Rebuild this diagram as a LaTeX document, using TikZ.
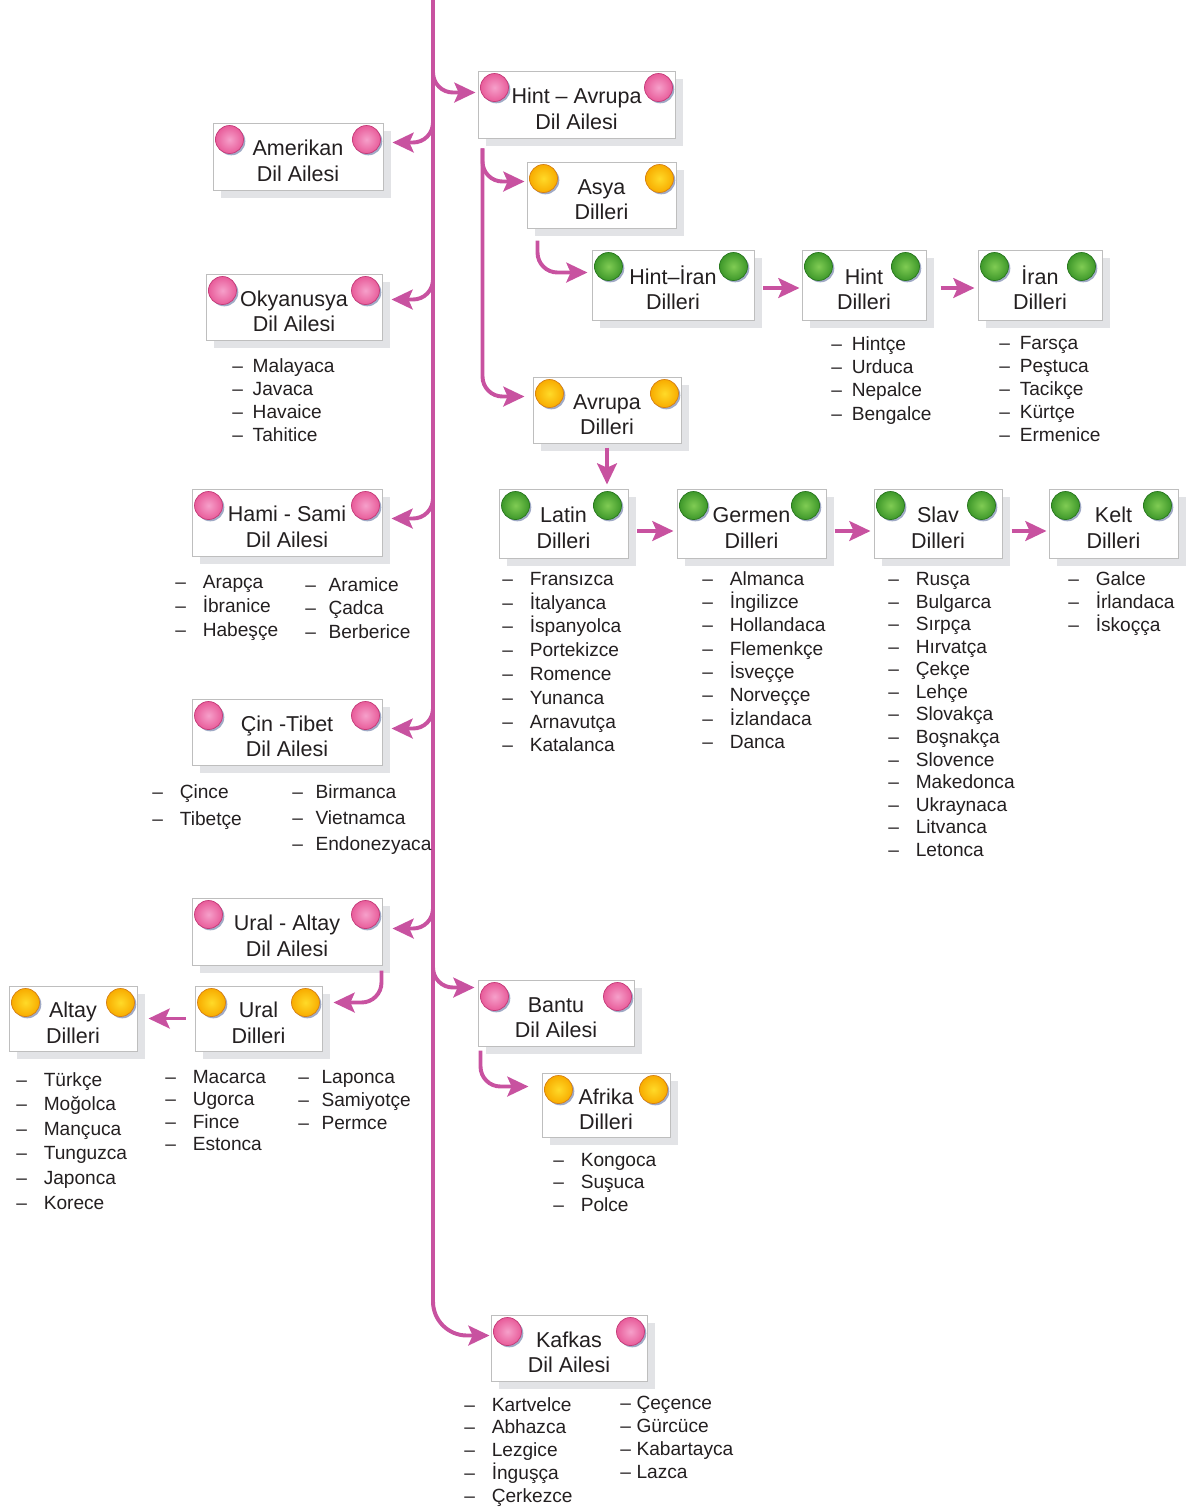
\documentclass[tikz,border=0pt]{standalone}
\usepackage{fontspec}
\setmainfont{Liberation Sans}
\usetikzlibrary{arrows.meta,shadows}

\definecolor{mag}{RGB}{200,82,160}
\definecolor{txt}{RGB}{35,31,32}
\definecolor{boxgray}{RGB}{190,190,190}
\definecolor{boxshadow}{RGB}{226,227,230}
\definecolor{dotshadow}{RGB}{160,170,198}
\definecolor{pinkin}{RGB}{246,160,202}
\definecolor{pinkout}{RGB}{232,92,154}
\definecolor{pinkedge}{RGB}{196,58,120}
\definecolor{orin}{RGB}{255,218,40}
\definecolor{orout}{RGB}{248,172,0}
\definecolor{oredge}{RGB}{214,128,20}
\definecolor{grin}{RGB}{128,204,84}
\definecolor{grout}{RGB}{62,152,42}
\definecolor{gredge}{RGB}{40,118,30}

\tikzstyle{arw} = [draw=mag, line width=2.8pt, -{Stealth[length=15pt,width=14pt,inset=3pt]}]
\tikzstyle{brarw} = [arw, rounded corners=0.5cm]
\tikzstyle{fam} = [draw=boxgray, fill=white, line width=0.7pt, inner sep=0pt, align=center, text=txt,
  font=\fontsize{15.3}{18.2}\selectfont,
  general shadow={fill=boxshadow, shadow xshift=0.2cm, shadow yshift=-0.2cm}]
\tikzset{sz/.style 2 args={minimum width=#1*0.025cm, minimum height=#2*0.025cm}}
\tikzstyle{dot} = [circle, inner sep=0pt, minimum size=0.7cm, line width=0.5pt,
  general shadow={fill=dotshadow, shadow xshift=0.045cm, shadow yshift=-0.045cm}]
\tikzstyle{pdot} = [dot, draw=pinkedge, inner color=pinkin, outer color=pinkout]
\tikzstyle{odot} = [dot, draw=oredge, inner color=orin, outer color=orout]
\tikzstyle{gdot} = [dot, draw=gredge, inner color=grin, outer color=grout]
\tikzstyle{lst} = [anchor=north west, inner sep=0pt, align=left, text=txt, font=\fontsize{13.6}{#1}\selectfont]

% two lines of a box, first one strutted
\newcommand{\boxtext}[2]{\rule{0pt}{17pt}#1\\#2}

% dash + gap in the lists
\newcommand{\dashw}{–\hspace{12pt}}
\newcommand{\dashm}{–\hspace{9pt}}
\newcommand{\dashn}{–\hspace{7pt}}
\newcommand{\dasht}{–\hspace{4pt}}

% the two balls on a box
\newcommand{\twodots}[3][17]{%
  \node[#3] (#2-l) at ([shift={(17,17)}]#2.north west) {};
  \node[#3] (#2-r) at ([shift={(-#1,17)}]#2.north east) {};}

\begin{document}
\begin{tikzpicture}[x=0.025cm, y=-0.025cm]
\useasboundingbox (0,0) rectangle (1189,1508);

% families
\node[fam, sz={197}{67}] (hav) at (576.5,104.5) {\boxtext{Hint – Avrupa}{Dil Ailesi}};
\node[fam, sz={170}{67}] (ame) at (298,156.5) {\boxtext{Amerikan}{Dil Ailesi}};
\node[fam, sz={176}{66}] (oky) at (294,307) {\boxtext{Okyanusya}{Dil Ailesi}};
\node[fam, sz={190}{67}] (ham) at (287,522.5) {\boxtext{Hami - Sami}{Dil Ailesi}};
\node[fam, sz={190}{66}] (cin) at (287,732) {\boxtext{Çin -Tibet}{Dil Ailesi}};
\node[fam, sz={190}{67}] (ura) at (287,931.5) {\boxtext{Ural - Altay}{Dil Ailesi}};
\node[fam, sz={156}{66}] (ban) at (556,1013) {\boxtext{Bantu}{Dil Ailesi}};
\node[fam, sz={156}{66}] (kaf) at (569,1348) {\boxtext{Kafkas}{Dil Ailesi}};

% groups
\node[fam, sz={149}{66}] (asy) at (601.5,195) {\boxtext{Asya}{Dilleri}};
\node[fam, sz={148}{66}] (avr) at (607,410) {\boxtext{Avrupa}{Dilleri}};
\node[fam, sz={128}{65}] (alt) at (73,1018.5) {\boxtext{Altay}{Dilleri}};
\node[fam, sz={127}{65}] (urd) at (258.5,1018.5) {\boxtext{Ural}{Dilleri}};
\node[fam, sz={128}{64}] (afr) at (606,1105) {\boxtext{Afrika}{Dilleri}};

% sub groups
\node[fam, sz={162}{70}] (hii) at (673,285) {\boxtext{Hint–İran}{Dilleri}};
\node[fam, sz={124}{70}] (hin) at (864,285) {\boxtext{Hint}{Dilleri}};
\node[fam, sz={124}{70}] (ira) at (1040,285) {\boxtext{İran}{Dilleri}};
\node[fam, sz={129}{69}] (lat) at (563.5,523.5) {\boxtext{Latin}{Dilleri}};
\node[fam, sz={149}{69}] (ger) at (751.5,523.5) {\boxtext{Germen}{Dilleri}};
\node[fam, sz={128}{69}] (sla) at (938,523.5) {\boxtext{Slav}{Dilleri}};
\node[fam, sz={129}{69}] (kel) at (1113.5,523.5) {\boxtext{Kelt}{Dilleri}};

\twodots{hav}{pdot} \twodots{ame}{pdot} \twodots{oky}{pdot} \twodots{ham}{pdot}
\twodots{cin}{pdot} \twodots{ura}{pdot} \twodots{ban}{pdot} \twodots{kaf}{pdot}
\twodots{asy}{odot} \twodots{avr}{odot} \twodots{alt}{odot} \twodots{urd}{odot}
\twodots{afr}{odot}
\twodots[21]{hii}{gdot} \twodots[21]{hin}{gdot} \twodots[21]{ira}{gdot}
\twodots[21]{lat}{gdot} \twodots[21]{ger}{gdot} \twodots[21]{sla}{gdot}
\twodots[21]{kel}{gdot}

% main line
\coordinate (top) at (433,0);
\coordinate (sp-hav) at (433,40);
\coordinate (sp-ame) at (433,100);
\coordinate (sp-oky) at (433,255);
\coordinate (sp-ham) at (433,475);
\coordinate (sp-cin) at (433,685);
\coordinate (sp-ura) at (433,885);
\coordinate (sp-ban) at (433,940);
\draw[arw, rounded corners=0.85cm] (top) |- ([shift={(-1,21)}]kaf.north west);
\draw[brarw] (sp-hav) |- ([shift={(-2,22)}]hav.north west);
\draw[brarw] (sp-ame) |- ([shift={(9,20)}]ame.north east);
\draw[brarw] (sp-oky) |- ([shift={(9,26)}]oky.north east);
\draw[brarw] (sp-ham) |- ([shift={(9,30)}]ham.north east);
\draw[brarw] (sp-cin) |- ([shift={(9,30)}]cin.north east);
\draw[brarw] (sp-ura) |- ([shift={(10,31)}]ura.north east);
\draw[brarw] (sp-ban) |- ([shift={(-3,8)}]ban.north west);

% sub branches
\coordinate (hav-s) at ([shift={(5,10)}]hav.south west);
\draw[brarw] (hav-s) |- ([shift={(-2,20)}]asy.north west);
\draw[brarw] (hav-s) |- ([shift={(-8,20)}]avr.north west);
\coordinate (asy-s) at ([shift={(11,12)}]asy.south west);
\draw[brarw] (asy-s) |- ([shift={(-4,23)}]hii.north west);
\coordinate (ura-s) at ([shift={(-1,5)}]ura.south east);
\draw[brarw] (ura-s) |- ([shift={(11,17)}]urd.north east);
\coordinate (ban-s) at ([shift={(3,4)}]ban.south west);
\draw[brarw] (ban-s) |- ([shift={(-13,14)}]afr.north west);

\draw[arw] ([shift={(9,3)}]hii.east) -- ([shift={(-2,3)}]hin.west);
\draw[arw] ([shift={(14,3)}]hin.east) -- ([shift={(-3,3)}]ira.west);
\draw[arw] ([shift={(0,4)}]avr.south) -- ([shift={(0,-4)}]avr.south |- lat.north);
\draw[arw] ([shift={(9,7.5)}]lat.east) -- ([shift={(-3,7.5)}]ger.west);
\draw[arw] ([shift={(8,7.5)}]ger.east) -- ([shift={(-3,7.5)}]sla.west);
\draw[arw] ([shift={(9,7.5)}]sla.east) -- ([shift={(-2,7.5)}]kel.west);
\draw[arw] ([shift={(-9,0)}]urd.west) -- ([shift={(11,0)}]alt.east);

% languages
\node[lst=16.4pt] (oky-l) at (232,358) {\dashn Malayaca\\\dashn Javaca\\\dashn Havaice\\\dashn Tahitice};
\node[lst=16.6pt] (hin-l) at (831,336) {\dashn Hintçe\\\dashn Urduca\\\dashn Nepalce\\\dashn Bengalce};
\node[lst=16.4pt] (ira-l) at (999,336) {\dashn Farsça\\\dashn Peştuca\\\dashn Tacikçe\\\dashn Kürtçe\\\dashn Ermenice};
\node[lst=17.1pt] (ham-l) at (175,575) {\dashw Arapça\\\dashw İbranice\\\dashw Habeşçe};
\node[lst=16.7pt] (ham-m) at (305,577) {\dashm Aramice\\\dashm Çadca\\\dashm Berberice};
\node[lst=16.9pt] (lat-l) at (502,572) {\dashw Fransızca\\\dashw İtalyanca\\\dashw İspanyolca\\\dashw Portekizce\\\dashw Romence\\\dashw Yunanca\\\dashw Arnavutça\\\dashw Katalanca};
\node[lst=16.6pt] (ger-l) at (702,571) {\dashw Almanca\\\dashw İngilizce\\\dashw Hollandaca\\\dashw Flemenkçe\\\dashw İsveççe\\\dashw Norveççe\\\dashw İzlandaca\\\dashw Danca};
\node[lst=16.05pt] (sla-l) at (888,572) {\dashw Rusça\\\dashw Bulgarca\\\dashw Sırpça\\\dashw Hırvatça\\\dashw Çekçe\\\dashw Lehçe\\\dashw Slovakça\\\dashw Boşnakça\\\dashw Slovence\\\dashw Makedonca\\\dashw Ukraynaca\\\dashw Litvanca\\\dashw Letonca};
\node[lst=16.4pt] (kel-l) at (1068,571) {\dashw Galce\\\dashw İrlandaca\\\dashw İskoçça};
\node[lst=19.2pt] (cin-l) at (152,784) {\dashw Çince\\\dashw Tibetçe};
\node[lst=18.5pt] (cin-m) at (292,784) {\dashm Birmanca\\\dashm Vietnamca\\\dashm Endonezyaca};
\node[lst=17.5pt] (alt-l) at (16,1072) {\dashw Türkçe\\\dashw Moğolca\\\dashw Mançuca\\\dashw Tunguzca\\\dashw Japonca\\\dashw Korece};
\node[lst=15.9pt] (urd-l) at (165,1070) {\dashw Macarca\\\dashw Ugorca\\\dashw Fince\\\dashw Estonca};
\node[lst=16.4pt] (urd-m) at (298,1070) {\dashm Laponca\\\dashm Samiyotçe\\\dashm Permce};
\node[lst=16pt] (afr-l) at (553,1153) {\dashw Kongoca\\\dashw Suşuca\\\dashw Polce};
\node[lst=16.2pt] (kaf-l) at (464,1397) {\dashw Kartvelce\\\dashw Abhazca\\\dashw Lezgice\\\dashw İnguşça\\\dashw Çerkezce};
\node[lst=16.4pt] (kaf-m) at (620,1396) {\dasht Çeçence\\\dasht Gürcüce\\\dasht Kabartayca\\\dasht Lazca};

\end{tikzpicture}
\end{document}
